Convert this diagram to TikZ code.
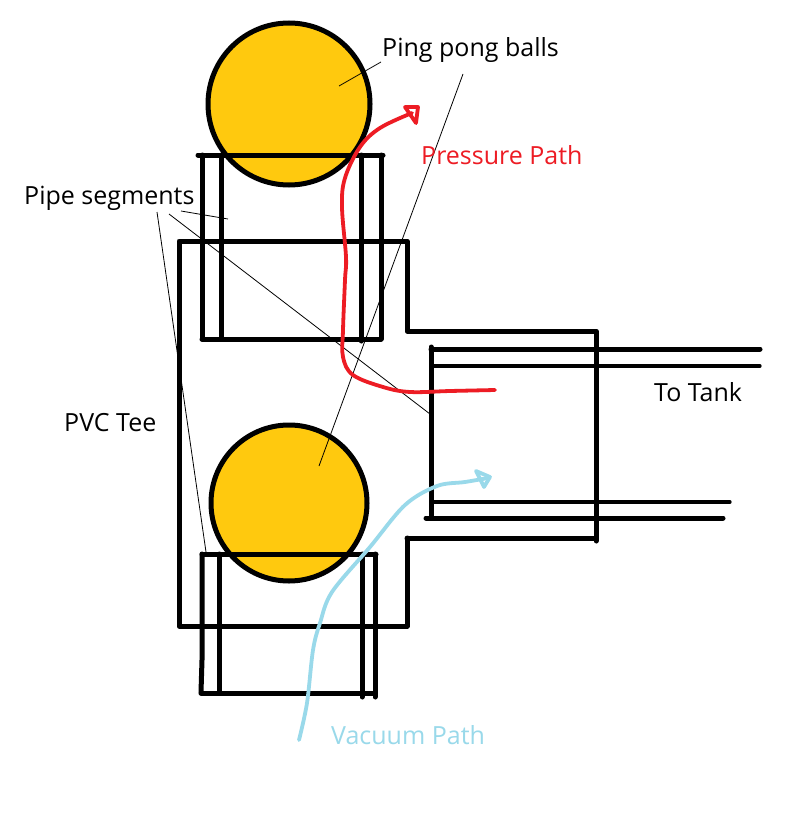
\documentclass[tikz,border=0pt]{standalone}
\usepackage{fontspec}
\setmainfont{Open Sans}
\definecolor{ballfill}{HTML}{FFC90E}
\definecolor{redpath}{HTML}{ED1C24}
\definecolor{bluepath}{HTML}{99D9EA}
\tikzset{
 thick line/.style={draw=black,line width=5pt,line cap=round,line join=round},
 mid line/.style={draw=black,line width=3.2pt,line cap=round},
 leader/.style={draw=black,line width=0.8pt},
 ball/.style={draw=black,line width=5pt,fill=ballfill},
 flow/.style={line width=3.8pt,line cap=round,line join=round},
 lbl/.style={font=\fontsize{25}{28}\selectfont,inner sep=0pt,anchor=west},
}
\begin{document}
\begin{tikzpicture}[x=1pt,y=-1pt]
\useasboundingbox[fill=white] (0,0) rectangle (787,832);
% balls
\draw[ball] (289,104) circle (81);
\draw[ball] (289,503) circle (78);
% leaders
\coordinate (l1a) at (339,86); \coordinate (l1b) at (381,62);
\coordinate (l2a) at (463,74); \coordinate (l2b) at (319,466);
\coordinate (l3a) at (181,211); \coordinate (l3b) at (228,219);
\coordinate (l4a) at (169,214); \coordinate (l4b) at (430,414);
\coordinate (l5a) at (157,212); \coordinate (l5b) at (206,552);
\draw[leader] (l1a) -- (l1b);
\draw[leader] (l2a) -- (l2b);
\draw[leader] (l3a) -- (l3b);
\draw[leader] (l4a) -- (l4b);
\draw[leader] (l5a) -- (l5b);
% upper pipe
\draw[thick line] (198,155) -- (383,155);
\draw[thick line] (202,155) -- (202,339) (221,155) -- (221,339);
\draw[thick line] (361,155) -- (361,341) (381,155) -- (381,339);
\draw[thick line] (202,339) -- (381,339);
% tee
\draw[thick line] (407,538) -- (407,626) -- (179,626) -- (179,241) -- (407,241) -- (407,331) -- (596,331) -- (596,541);
\draw[thick line] (407,538) -- (596,538);
% right pipe
\draw[thick line] (431,347) -- (431,518);
\draw[thick line] (431,349) -- (760,349);
\draw[mid line] (431,366) -- (760,366);
\draw[mid line] (431,502) -- (730,502);
\draw[thick line] (426,518) -- (723,518);
% lower pipe
\draw[thick line] (202,554) -- (376,554);
\draw[thick line] (202,554) -- (202,660) -- (201,692);
\draw[thick line] (219,554) -- (219,693);
\draw[thick line] (362,554) -- (362,697) (375,554) -- (375,697);
\draw[thick line] (201,693) -- (375,693);
% paths
\draw[redpath,flow] plot[smooth,tension=0.6] coordinates {(495,390) (450,391) (410,392) (383,387) (353,375) (343,357) (343,330) (345,280) (346,257) (342,207) (345,178) (360,147) (380,128) (412,113)};
\draw[redpath,flow] (405,107) -- (418,107) -- (416,123) -- cycle;
\draw[bluepath,flow] plot[smooth,tension=0.55] coordinates {(299,740) (307,703) (313,650) (320,623) (332,592) (370,547) (405,505) (437,486) (465,482) (488,478)};
\draw[bluepath,flow] (476,471) -- (490,477) -- (484,487) -- cycle;
% labels
\node[lbl] (t1) at (382,50) {Ping pong balls};
\node[lbl] (t2) at (24,198) {Pipe segments};
\node[lbl] (t3) at (64,423) {PVC Tee};
\node[lbl] (t4) at (654,392) {To Tank};
\node[lbl,text=redpath] (t5) at (421,155) {Pressure Path};
\node[lbl,text=bluepath] (t6) at (331,735) {Vacuum Path};
\end{tikzpicture}
\end{document}
